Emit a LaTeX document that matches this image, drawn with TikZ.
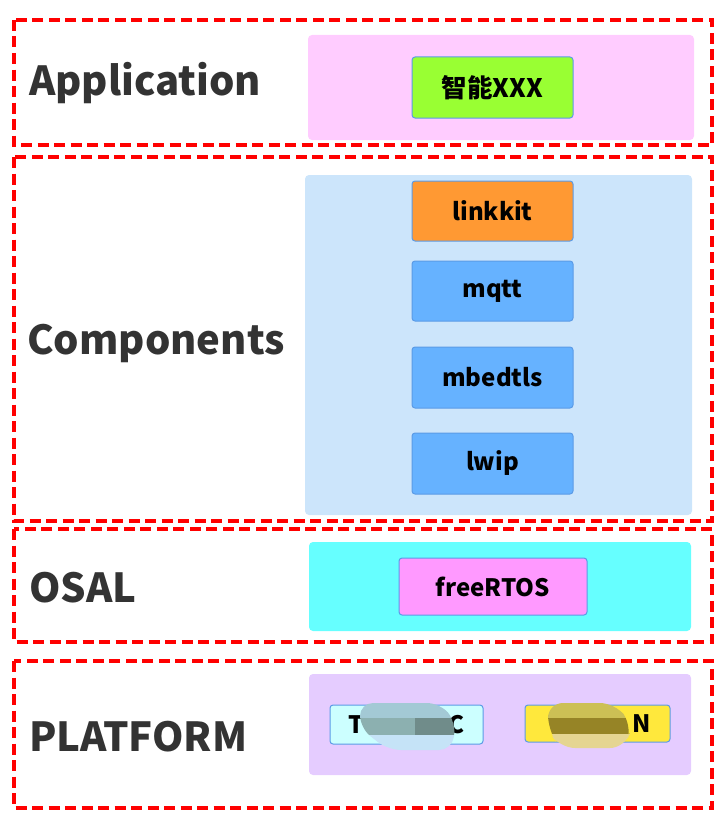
\documentclass[tikz,border=0pt]{standalone}
\usepackage{fontspec}
\setmainfont{Noto Sans CJK SC}
\definecolor{layerred}{HTML}{FF0000}
\definecolor{titlegray}{HTML}{333333}
\definecolor{blockline}{HTML}{5B9BE6}
\definecolor{appfill}{HTML}{FFCCFF}
\definecolor{compfill}{HTML}{CCE5FB}
\definecolor{osalfill}{HTML}{66FFFF}
\definecolor{platfill}{HTML}{E5CCFF}
\definecolor{appgreen}{HTML}{99FF33}
\definecolor{kitorange}{HTML}{FF9933}
\definecolor{compblue}{HTML}{66B2FF}
\definecolor{rtospink}{HTML}{FF99FF}
\definecolor{chipcyan}{HTML}{CCFFFF}
\definecolor{chipyellow}{HTML}{FFE83C}

\begin{document}
\begin{tikzpicture}[x=1pt,y=-1pt]
    \tikzset{layer/.style = {draw=layerred,line width=3.5pt,dash pattern=on 11pt off 5.5pt}}
    \tikzset{panel/.style = {rounded corners=4pt}}
    \tikzset{block/.style = {draw=blockline,line width=1pt,rounded corners=3pt,
        inner sep=0pt,font=\bfseries\fontsize{24}{28}\selectfont}}
    \tikzset{title/.style = {anchor=west,inner sep=0pt,text=titlegray,
        font=\bfseries\fontsize{40}{48}\selectfont}}
    \useasboundingbox (0,0) rectangle (723,816);
    % layers
    \draw[layer] (14,20) rectangle (712,145); \draw[layer] (14,157) rectangle (712,521);
    \draw[layer] (14,529) rectangle (712,642); \draw[layer] (14,661) rectangle (712,808);
    \node[title] (app) at (29,83) {Application};
    \node[title] (comp) at (27,343) {Components};
    \node[title] (osal) at (29,588) {OSAL};
    \node[title] (plat) at (29,737) {PLATFORM};
    % panels
    \fill[appfill,panel] (308,35) rectangle (694,140);
    \fill[compfill,panel] (305,175) rectangle (692,515);
    \fill[osalfill,panel] (309,542) rectangle (691,631);
    \fill[platfill,panel] (309,674) rectangle (691,775);
    % blocks
    \node[block,fill=appgreen,minimum width=161pt,minimum height=61pt,
        font=\bfseries\fontsize{25.5}{29}\selectfont] (smart) at (492.5,87.5) {智能XXX};
    \node[block,fill=kitorange,minimum width=161pt,minimum height=60pt] (linkkit) at (492.5,211) {linkkit};
    \node[block,fill=compblue,minimum width=161pt,minimum height=60pt] (mqtt) at (492.5,291) {mqtt};
    \node[block,fill=compblue,minimum width=161pt,minimum height=61pt] (mbedtls) at (492.5,377.5) {mbedtls};
    \node[block,fill=compblue,minimum width=161pt,minimum height=61pt] (lwip) at (492.5,463.5) {lwip};
    \node[block,fill=rtospink,minimum width=188pt,minimum height=57pt] (rtos) at (493,586.5) {freeRTOS};
    \node[block,fill=chipcyan,minimum width=153pt,minimum height=39pt] (chipa) at (406.5,724.5) {T\hspace{84pt}C};
    \node[block,fill=chipyellow,minimum width=145pt,minimum height=37pt] (chipb) at (597.5,723.5) {\hspace{88pt}N};
    % smudges
    \begin{scope}
        \clip[rounded corners=13pt] (360,703) -- (440,703) -- (456,722) -- (452,750) -- (388,750) -- (360,728) -- cycle;
        \fill[fill={rgb,255:red,163;green,201;blue,213}] (355,700) rectangle (460,718);
        \fill[fill={rgb,255:red,140;green,176;blue,176}] (355,718) rectangle (415,735);
        \fill[fill={rgb,255:red,112;green,140;blue,138}] (415,718) rectangle (460,735);
        \fill[fill={rgb,255:red,197;green,227;blue,247}] (355,735) rectangle (460,752);
    \end{scope}
    \begin{scope}
        \clip[rounded corners=15pt] (548,703) -- (615,703) -- (632,725) -- (625,748) -- (560,748) -- (548,730) -- cycle;
        \fill[fill={rgb,255:red,204;green,192;blue,85}] (545,700) rectangle (635,718);
        \fill[fill={rgb,255:red,150;green,132;blue,38}] (545,718) rectangle (635,734);
        \fill[fill={rgb,255:red,229;green,213;blue,146}] (545,734) rectangle (635,750);
    \end{scope}
\end{tikzpicture}
\end{document}
